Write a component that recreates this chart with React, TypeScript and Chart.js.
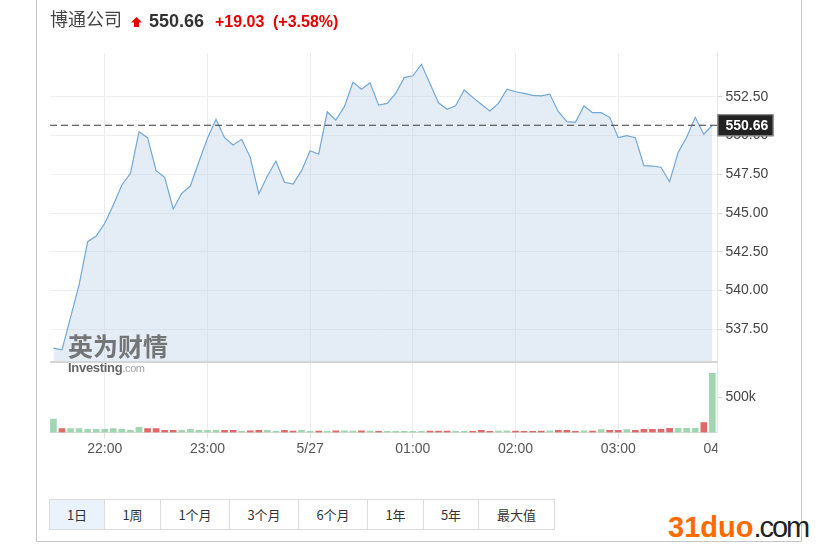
import React, { useEffect, useRef } from "react";
import { Chart, registerables } from "chart.js";

Chart.register(...registerables);

// ---- data ----
const stockName = "博通公司";
const lastPriceText = "550.66";
const changeText = "+19.03";
const changePctText = "(+3.58%)";

const stepMinutes = 5; // 5-minute bars starting 21:30
const prices = [
  536.28, 536.17, 538.27, 540.36, 543.15, 543.52, 544.34, 545.52, 546.81, 547.56,
  550.24, 549.86, 547.73, 547.3, 545.26, 546.27, 546.74, 548.31, 549.82, 551.04,
  549.86, 549.39, 549.75, 548.59, 546.23, 547.39, 548.35, 546.98, 546.87, 547.73,
  549.02, 548.79, 551.53, 551.0, 551.86, 553.43, 552.98, 553.4, 551.96, 552.07,
  552.72, 553.73, 553.85, 554.59, 553.36, 552.11, 551.69, 551.92, 552.93, 552.46,
  552.01, 551.58, 552.07, 552.98, 552.82, 552.72, 552.59, 552.55, 552.67, 551.53,
  550.89, 550.85, 551.9, 551.47, 551.47, 551.17, 549.86, 549.99, 549.86, 548.05,
  548.03, 547.95, 547.02, 548.91, 549.88, 551.17, 550.08, 550.66,
];
const volumes = [
  190000, 55000, 55000, 55000, 45000, 45000, 45000, 55000, 45000, 30000,
  75000, 55000, 55000, 30000, 30000, 30000, 45000, 30000, 30000, 30000,
  30000, 30000, 15000, 25000, 30000, 30000, 15000, 30000, 20000, 30000,
  15000, 20000, 15000, 25000, 25000, 20000, 25000, 20000, 15000, 15000,
  15000, 15000, 15000, 15000, 20000, 20000, 20000, 15000, 15000, 15000,
  30000, 15000, 20000, 25000, 20000, 15000, 15000, 20000, 25000, 30000,
  30000, 15000, 25000, 20000, 40000, 30000, 30000, 40000, 30000, 45000,
  45000, 45000, 60000, 60000, 60000, 60000, 140000, 840000,
];
const times = prices.map((_, i) => i * stepMinutes);

const xMin = -2;
const xMax = 388;
const xTickMinutes = [30, 90, 150, 210, 270, 330, 390];
const xTickLabels = ["22:00", "23:00", "5/27", "01:00", "02:00", "03:00", "04:00"];

const priceMin = 535.39;
const priceMax = 555.32;
const priceTicks = [537.5, 540, 542.5, 545, 547.5, 550, 552.5];

const volMax = 1000000;
const volTicks = [500000];

const rangeButtons = ["1日", "1周", "1个月", "3个月", "6个月", "1年", "5年", "最大值"];
const buttonEdges = [49, 104, 160, 229, 298, 367, 423, 478, 554];

const UP = "rgba(150,210,170,0.9)";
const DOWN = "rgba(222,96,96,0.95)";
const volColors = prices.map((p, i) => (i === 0 || p >= prices[i - 1] ? UP : DOWN));

const FONT = '"Liberation Sans", Arial, sans-serif';
const CJK = '"Noto Sans CJK SC", "Noto Sans", sans-serif';

const overlayPlugin = {
  id: "overlay",
  afterDraw(chart: any) {
    const { ctx, chartArea, scales } = chart;
    const x = scales.x;
    const y = scales.y;
    ctx.save();
    // price panel bottom border
    ctx.strokeStyle = "#d6d6d6";
    ctx.lineWidth = 2;
    ctx.beginPath();
    ctx.moveTo(chartArea.left, y.bottom);
    ctx.lineTo(chartArea.right, y.bottom);
    ctx.stroke();
    // dashed last price line
    const last = prices[prices.length - 1];
    const py = y.getPixelForValue(last);
    ctx.setLineDash([7, 4]);
    ctx.strokeStyle = "#3a3a3a";
    ctx.lineWidth = 1.2;
    ctx.beginPath();
    ctx.moveTo(chartArea.left, py);
    ctx.lineTo(chartArea.right, py);
    ctx.stroke();
    ctx.setLineDash([]);
    // price box
    const bw = 56;
    const bh = 22;
    const bx = chartArea.right;
    ctx.fillStyle = "#222";
    ctx.fillRect(bx, py - bh / 2, bw, bh);
    ctx.strokeStyle = "#999";
    ctx.lineWidth = 1;
    ctx.strokeRect(bx + 0.5, py - bh / 2 + 0.5, bw - 1, bh - 1);
    ctx.fillStyle = "#fff";
    ctx.font = `bold 14px ${FONT}`;
    ctx.textAlign = "left";
    ctx.textBaseline = "middle";
    ctx.fillText(last.toFixed(2), bx + 8, py + 1);
    // x labels (clipped at plot edge)
    ctx.beginPath();
    ctx.rect(0, chartArea.bottom, chartArea.right, 40);
    ctx.clip();
    ctx.fillStyle = "#555";
    ctx.font = `14px ${FONT}`;
    ctx.textAlign = "center";
    ctx.textBaseline = "middle";
    xTickMinutes.forEach((m, i) => {
      ctx.fillText(xTickLabels[i], x.getPixelForValue(m), chartArea.bottom + 17);
    });
    ctx.restore();
  },
};

function StockChart() {
  const ref = useRef<HTMLCanvasElement | null>(null);
  useEffect(() => {
    if (!ref.current) return;
    Chart.defaults.font.family = FONT;
    const chart = new Chart(ref.current, {
      type: "line",
      data: {
        datasets: [
          {
            type: "line",
            data: times.map((t, i) => ({ x: t, y: prices[i] })),
            xAxisID: "x",
            yAxisID: "y",
            borderColor: "#72a7d6",
            borderWidth: 1.2,
            backgroundColor: "rgba(190,212,232,0.42)",
            fill: "start",
            pointRadius: 0,
            tension: 0,
          },
          {
            type: "bar",
            data: times.map((t, i) => ({ x: t, y: volumes[i] })),
            xAxisID: "x",
            yAxisID: "yv",
            backgroundColor: volColors,
            borderWidth: 0,
            barThickness: 6,
          },
        ],
      } as any,
      options: {
        responsive: false,
        devicePixelRatio: 1,
        animation: false,
        events: [],
        layout: { padding: { left: 50, top: 53, right: 0, bottom: 0 } },
        plugins: { legend: { display: false }, tooltip: { enabled: false } },
        scales: {
          x: {
            type: "linear",
            min: xMin,
            max: xMax,
            offset: false,
            afterBuildTicks: (s: any) => {
              s.ticks = xTickMinutes.map((v) => ({ value: v }));
            },
            afterFit: (s: any) => {
              s.height = 37.5;
            },
            ticks: { display: false },
            grid: {
              offset: false,
              color: (c: any) => (c.tick && c.tick.value > xMax ? "rgba(0,0,0,0)" : "#ececec"),
              tickColor: (c: any) => (c.tick && c.tick.value > xMax ? "rgba(0,0,0,0)" : "#e2e2e2"),
              tickLength: 6,
            },
            border: { color: "#dedede" },
          },
          y: {
            position: "right",
            stack: "panels",
            stackWeight: 309,
            min: priceMin,
            max: priceMax,
            afterBuildTicks: (s: any) => {
              s.ticks = priceTicks.map((v) => ({ value: v }));
            },
            afterFit: (s: any) => {
              s.width = 82.5;
            },
            ticks: {
              color: "#444",
              font: { size: 14 },
              padding: 3,
              callback: (v: any) => Number(v).toFixed(2),
            },
            grid: { color: "#f0f0f0", tickColor: "#d8d8d8", tickLength: 5 },
            border: { color: "#e4e4e4" },
          },
          yv: {
            position: "right",
            stack: "panels",
            stackWeight: 70.5,
            min: 0,
            max: volMax,
            afterBuildTicks: (s: any) => {
              s.ticks = volTicks.map((v) => ({ value: v }));
            },
            afterFit: (s: any) => {
              s.width = 82.5;
            },
            ticks: {
              color: "#444",
              font: { size: 14 },
              padding: 3,
              callback: (v: any) => Number(v) / 1000 + "k",
            },
            grid: { drawOnChartArea: false, tickColor: "#d8d8d8", tickLength: 5 },
            border: { color: "#e4e4e4" },
          },
        },
      } as any,
      plugins: [overlayPlugin],
    });
    return () => chart.destroy();
  }, []);
  return <canvas ref={ref} width={800} height={470} style={{ position: "absolute", left: 0, top: 0 }} />;
}

export default function App() {
  return (
    <div
      style={{
        position: "absolute",
        left: 0,
        top: 0,
        width: 830,
        height: 550,
        background: "#fff",
        overflow: "hidden",
        fontFamily: FONT,
      }}
    >
      <div
        style={{
          position: "absolute",
          left: 36,
          top: -5,
          width: 764,
          height: 545,
          border: "1px solid #c6c6c6",
        }}
      />
      <StockChart />
      {/* header */}
      <div style={{ position: "absolute", left: 50, top: 9, fontFamily: CJK, fontSize: 18, lineHeight: 1, color: "#444" }}>
        {stockName}
      </div>
      <svg style={{ position: "absolute", left: 131, top: 17 }} width={11} height={10} viewBox="0 0 11 10">
        <polygon points="0,5.5 5.5,0 11,5.5" fill="#e60000" />
        <rect x={3} y={5} width={5} height={5} fill="#e60000" />
      </svg>
      <div style={{ position: "absolute", left: 149, top: 12, fontSize: 18, fontWeight: "bold", lineHeight: 1, color: "#333" }}>
        {lastPriceText}
      </div>
      <div style={{ position: "absolute", left: 215, top: 13.5, fontSize: 16, fontWeight: "bold", lineHeight: 1, color: "#e60000" }}>
        {changeText}
      </div>
      <div style={{ position: "absolute", left: 273, top: 13.5, fontSize: 16, fontWeight: "bold", lineHeight: 1, color: "#e60000" }}>
        {changePctText}
      </div>
      {/* investing watermark */}
      <div
        style={{
          position: "absolute",
          left: 68,
          top: 333,
          fontFamily: CJK,
          fontWeight: "bold",
          fontSize: 25,
          lineHeight: 1,
          color: "rgba(95,95,95,0.85)",
        }}
      >
        英为财情
      </div>
      <div style={{ position: "absolute", left: 68, top: 359, lineHeight: 1, whiteSpace: "nowrap" }}>
        <span style={{ fontSize: 13, fontWeight: "bold", color: "rgba(85,85,85,0.9)", letterSpacing: -0.3 }}>Investing</span>
        <span style={{ fontSize: 11, color: "rgba(150,150,150,0.9)", letterSpacing: -0.4 }}>.com</span>
      </div>
      {/* range buttons */}
      {rangeButtons.map((label, i) => (
        <div
          key={label}
          style={{
            position: "absolute",
            left: buttonEdges[i],
            top: 499,
            width: buttonEdges[i + 1] - buttonEdges[i] + 1,
            height: 31,
            boxSizing: "border-box",
            border: "1px solid #dcdcdc",
            background: i === 0 ? "#eaf2fb" : "#fff",
            fontFamily: CJK,
            fontSize: 13,
            color: "#333",
            display: "flex",
            alignItems: "center",
            justifyContent: "center",
          }}
        >
          {label}
        </div>
      ))}
      {/* site watermark */}
      <div style={{ position: "absolute", left: 668, top: 512.5, fontSize: 29, lineHeight: 1, whiteSpace: "nowrap" }}>
        <span style={{ fontWeight: "bold", color: "#ff6a00" }}>31duo</span>
        <span style={{ color: "#222", letterSpacing: -2 }}>.com</span>
      </div>
    </div>
  );
}
